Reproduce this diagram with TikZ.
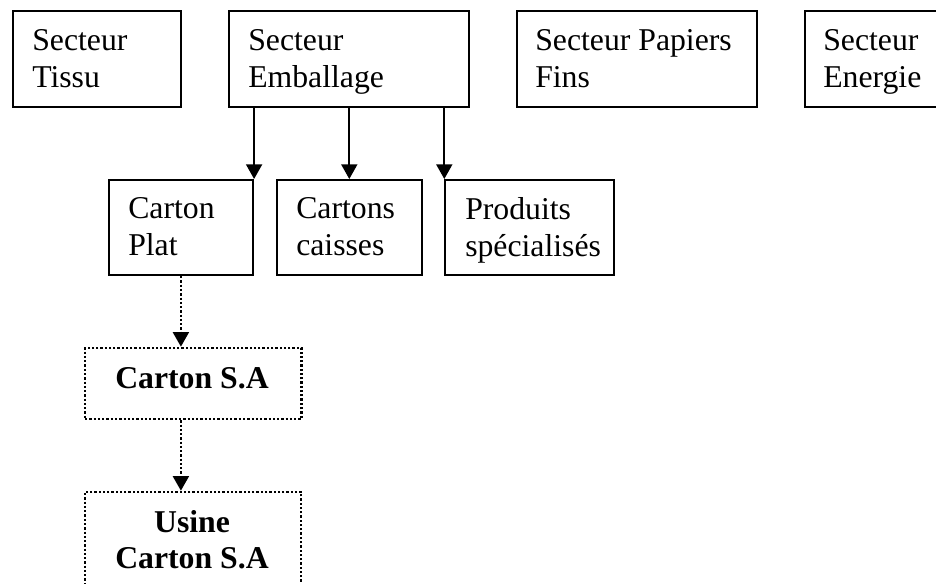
\documentclass[tikz,border=0pt]{standalone}
\usepackage{fontspec}
\setmainfont{Liberation Serif}
\usetikzlibrary{arrows.meta}
\begin{document}
\begin{tikzpicture}[x=0.75pt,y=-0.75pt,
  box/.style={draw, line width=1.4pt, inner sep=0pt, anchor=north west},
  dotbox/.style={box, line width=1.7pt, dash pattern=on 1.7pt off 1.5pt},
  txt/.style={inner sep=0pt, anchor=north west, align=left,
    font=\fontsize{23.8pt}{27.75pt}\selectfont},
  btxt/.style={inner sep=0pt, anchor=north, align=center,
    font=\fontsize{23.8pt}{27.5pt}\selectfont\bfseries},
  arr/.style={line width=1.4pt, -{Triangle[length=11pt,width=12pt]}},
  dotarr/.style={arr, line width=1.7pt, dash pattern=on 1.7pt off 1.5pt}]
\useasboundingbox (0,0) rectangle (936,584);
\clip (0,0) rectangle (936,584);
% top row
\node[box, minimum width=126pt, minimum height=72pt] (tissu) at (12,10.5) {};
\node[box, minimum width=180pt, minimum height=72pt] (emb) at (228,10.5) {};
\node[box, minimum width=180pt, minimum height=72pt] (pap) at (516,10.5) {};
\node[box, minimum width=126pt, minimum height=72pt] (ene) at (804,10.5) {};
\node[txt] (tissuT) at (32,29.5) {Secteur\\Tissu};
\node[txt] (embT) at (248,29.5) {Secteur\\Emballage};
\node[txt] (papT) at (535,29.5) {Secteur Papiers\\Fins};
\node[txt] (eneT) at (823,29.5) {Secteur\\Energie};
% second row
\node[box, minimum width=108.4pt, minimum height=71.5pt] (plat) at (107.7,179) {};
\node[box, minimum width=109pt, minimum height=71.5pt] (caisses) at (275.7,179) {};
\node[box, minimum width=126.3pt, minimum height=71.5pt] (prod) at (444.3,179) {};
\node[txt] (platT) at (128,197) {Carton\\Plat};
\node[txt] (caisT) at (296,197) {Cartons\\caisses};
\node[txt] (prodT) at (465,197) {Produits\\spécialisés};
% dotted boxes
\node[dotbox, minimum width=162.2pt, minimum height=53.5pt] (sa) at (84,346.7) {};
\node[dotbox, minimum width=162pt, minimum height=75pt] (usine) at (84,490.7) {};
\node[btxt] (saT) at (192,367) {Carton S.A};
\node[btxt] (usineT) at (192,510) {Usine\\Carton S.A};
% arrows
\draw[arr] (emb.south -| plat.north east) -- (plat.north east);
\draw[arr] (emb.south -| caisses.north) -- (caisses.north);
\draw[arr] (emb.south -| prod.north west) -- (prod.north west);
\draw[dotarr] (plat.south) -- (plat.south |- sa.north);
\draw[dotarr] (plat.south |- sa.south) -- (plat.south |- usine.north);
\end{tikzpicture}
\end{document}
